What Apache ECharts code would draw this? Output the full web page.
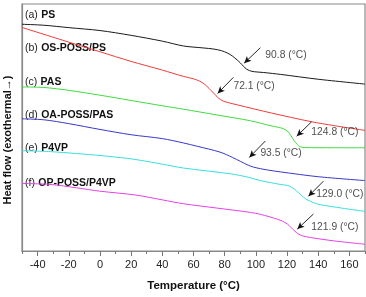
<!DOCTYPE html>
<html>
<head>
<meta charset="utf-8">
<script src="https://cdn.jsdelivr.net/npm/echarts@6/dist/echarts.min.js"></script>
<style>
  html, body { margin: 0; padding: 0; background: #fff; }
  #chart { width: 366px; height: 297px; }
</style>
</head>
<body>
<div id="chart"></div>
<script>
// DSC traces, [temperature (°C), heat flow (a.u.)]
const psCurve = [[-50, 235], [-36, 234], [-20, 231.5], [0, 228.5], [20, 223.5], [40, 217.5], [53.5, 212.5], [66, 210.5], [73, 209.3], [78, 207.6], [82, 205], [85, 202], [88, 198], [90, 195], [92, 191.5], [94, 188.6], [96, 186.9], [99, 185.8], [105, 185], [116, 183], [140, 178], [170, 173]];
const osPossPsCurve = [[-50, 231.7], [-20, 216.5], [0, 206.5], [20, 196.5], [40, 187.5], [53.5, 181], [60, 178.5], [64, 176], [67, 173], [70, 168.5], [73, 163.5], [76, 158.5], [79, 155.5], [83, 153.5], [88, 151.5], [110, 143], [135.6, 134], [150, 130], [170, 125]];
const pasCurve = [[-50, 170], [-36, 169.5], [-20, 166.5], [0, 161.5], [20, 156], [40, 150.5], [53.5, 147], [75, 141], [96.5, 135], [109, 130], [115, 128], [118, 126.5], [120.5, 124], [122.5, 119.5], [124.5, 114.5], [126.5, 110.5], [128.5, 108], [131, 107.2], [150, 107], [170, 107]];
const oaPossPasCurve = [[-50, 137], [-36, 136], [-20, 132], [0, 126], [20, 120.5], [40, 116.5], [53.5, 112], [62.5, 108.5], [77, 102.5], [85, 97], [90, 93], [95, 89], [98.4, 87], [103, 85.3], [107.4, 84], [115.7, 82], [140, 77], [170, 73]];
const p4vpCurve = [[-50, 104], [-32, 103], [-15, 101], [0, 99], [17.6, 96], [26, 94], [40, 90], [53.5, 86], [83.7, 80], [95, 76.5], [102.9, 73], [115.7, 69], [120.2, 68], [123, 66], [126, 62.5], [129, 58], [132, 54], [135, 51.5], [138, 49.5], [141.3, 48], [155, 44.5], [170, 41]];
const opPossP4vpCurve = [[-50, 70], [-32, 69], [-15, 65.5], [0, 62], [23, 58], [40, 53], [53.5, 49], [75, 44.5], [96.5, 40], [103, 38], [113.8, 33], [117, 31], [120.2, 28], [122.5, 24.5], [125, 20.5], [127.5, 17.5], [130, 15.7], [134.9, 14], [150, 10.5], [170, 7]];

const sampleTags = ['(a)', '(b)', '(c)', '(d)', '(e)', '(f)'];
const sampleNames = ['PS', 'OS-POSS/PS', 'PAS', 'OA-POSS/PAS', 'P4VP', 'OP-POSS/P4VP'];
const tgLabels = ['90.8 (°C)', '72.1 (°C)', '124.8 (°C)', '93.5 (°C)', '129.0 (°C)', '121.9 (°C)'];
const tgLabelAt = [[106.1, 203], [85.6, 171], [135.6, 123], [102.9, 101], [138.8, 59], [135.6, 25]];
const tgArrows = [
  [[102.9, 210.7], [92.5, 194.7]],
  [[85.6, 180], [75.5, 163.3]],
  [[135.8, 134], [126.2, 119]],
  [[106.1, 114], [95.8, 97]],
  [[143.3, 72.3], [133.7, 56.7]],
  [[136.9, 38.3], [126.6, 22.7]]
];
const majorTicks = [-40, -20, 0, 20, 40, 60, 80, 100, 120, 140, 160];
const minorTicks = [-50, -30, -10, 10, 30, 50, 70, 90, 110, 130, 150, 170];

const curves = [psCurve, osPossPsCurve, pasCurve, oaPossPasCurve, p4vpCurve, opPossP4vpCurve];
const colors = ['#1a1a1a', '#f03a3a', '#3ddc3d', '#3838c8', '#38dede', '#e540e5'];
const font = 'Arial, "Liberation Sans", sans-serif';

const chart = echarts.init(document.getElementById('chart'), null, { renderer: 'canvas' });

const lineSeries = curves.map((d, i) => ({
  type: 'line',
  name: sampleNames[i],
  data: d,
  smooth: 0.3,
  showSymbol: false,
  silent: true,
  lineStyle: { color: colors[i], width: 1 },
  z: 2
}));

const labelTop = [15, 48, 82, 115, 148, 183];

chart.setOption({
  animation: false,
  grid: { left: 22, right: 1, top: 4, bottom: 37, show: true, borderColor: '#8a8a8a', borderWidth: 1.2 },
  xAxis: [{
    type: 'value', min: -50, max: 170,
    name: 'Temperature (°C)', nameLocation: 'middle', nameGap: 29,
    nameTextStyle: { fontFamily: font, fontSize: 11.5, fontWeight: 'bold', color: '#111' },
    axisLine: { onZero: false, lineStyle: { color: '#8a8a8a', width: 1.2 } },
    axisTick: { show: true, length: 5, customValues: majorTicks, lineStyle: { color: '#777' } },
    axisLabel: { customValues: majorTicks, margin: 8, fontFamily: font, fontSize: 11, color: '#222' },
    splitLine: { show: false }
  }, {
    type: 'value', min: -50, max: 170, position: 'bottom',
    axisLine: { show: false, onZero: false },
    axisTick: { show: true, length: 3, customValues: minorTicks, lineStyle: { color: '#777' } },
    axisLabel: { show: false },
    splitLine: { show: false }
  }],
  yAxis: {
    type: 'value', min: 0, max: 256,
    axisLine: { show: true, onZero: false, lineStyle: { color: '#8a8a8a', width: 1.2 } },
    axisTick: { show: false }, axisLabel: { show: false }, splitLine: { show: false }
  },
  graphic: [{
    type: 'text', x: 8, y: 140, rotation: Math.PI / 2,
    style: { text: 'Heat flow (exothermal\u2192)', fontFamily: font, fontSize: 11, fontWeight: 'bold', fill: '#111', align: 'center', verticalAlign: 'middle' }
  }].concat(sampleTags.map((t, i) => ({
    type: 'text', x: 25, y: labelTop[i],
    style: {
      text: '{n|' + t + '} {b|' + sampleNames[i] + '}',
      verticalAlign: 'middle',
      rich: {
        n: { fontFamily: font, fontSize: 10.5, fill: '#222' },
        b: { fontFamily: font, fontSize: 10.5, fontWeight: 'bold', fill: '#111' }
      }
    }
  }))),
  series: lineSeries.concat([{
    type: 'scatter',
    symbolSize: 0,
    silent: true,
    data: tgLabelAt.map((p, i) => ({ value: p, name: tgLabels[i] })),
    label: { show: true, position: 'right', distance: 0, formatter: p => p.name, fontFamily: font, fontSize: 10.3, color: '#222' },
    markLine: {
      silent: true,
      symbol: ['none', 'arrow'],
      symbolSize: [5, 7],
      label: { show: false },
      lineStyle: { color: '#111', width: 0.9, type: 'solid' },
      data: tgArrows.map(a => [{ coord: a[0] }, { coord: a[1] }])
    },
    z: 3
  }])
});
</script>
</body>
</html>
